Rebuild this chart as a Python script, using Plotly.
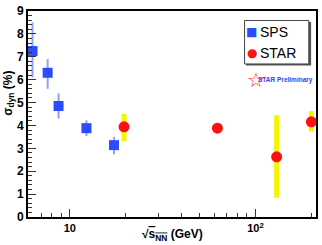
import plotly.graph_objects as go

# SPS data
sps_x = [6.3, 7.6, 8.7, 12.3, 17.3]
sps_y = [7.25, 6.3, 4.85, 3.88, 3.14]
sps_err_plus = [1.25, 0.6, 0.55, 0.34, 0.36]
sps_err_minus = [1.15, 0.7, 0.55, 0.34, 0.4]

# STAR data
star_x = [19.6, 62.4, 130.0, 200.0]
star_y = [3.94, 3.88, 2.63, 4.16]
star_sys_plus = [0.56, 0.05, 1.81, 0.47]
star_sys_minus = [0.64, 0.05, 1.79, 0.43]
star_stat = [0.2, 0.1, 0.15, 0.15]

x_tickvals = [10, 100]
x_ticktext = ["10", "10<sup>2</sup>"]
x_minor = [6, 7, 8, 9, 20, 30, 40, 50, 60, 70, 80, 90, 200]

legend_names = ["SPS", "STAR"]
legend_symbols = ["■", "●"]
legend_colors = ["#2b4cff", "#ff1010"]

font = "Liberation Sans, Arial, sans-serif"

fig = go.Figure()

fig.add_trace(go.Scatter(
    x=sps_x, y=sps_y, mode="markers", name="SPS",
    marker=dict(symbol="square", size=10, color="#2b4cff"),
    error_y=dict(type="data", symmetric=False, array=sps_err_plus,
                 arrayminus=sps_err_minus, color="rgba(90,120,255,0.7)",
                 thickness=2, width=0),
))
fig.add_trace(go.Scatter(
    x=star_x, y=star_y, mode="markers", showlegend=False,
    marker=dict(size=0.1, color="rgba(0,0,0,0)"),
    error_y=dict(type="data", symmetric=False, array=star_sys_plus,
                 arrayminus=star_sys_minus, color="#f5f500",
                 thickness=5, width=0),
))
fig.add_trace(go.Scatter(
    x=star_x, y=star_y, mode="markers", name="STAR",
    marker=dict(symbol="circle", size=11, color="#ff1010"),
    error_y=dict(type="data", array=star_stat, color="#ff3030",
                 thickness=1.5, width=0),
))

fig.update_xaxes(
    type="log", range=[0.775, 2.326],
    tickmode="array", tickvals=x_tickvals, ticktext=x_ticktext,
    ticks="inside", ticklen=8, tickwidth=1.2, tickcolor="#333",
    minor=dict(tickmode="array", tickvals=x_minor, ticks="inside",
               ticklen=4, tickwidth=1.2, tickcolor="#333"),
    showline=True, linecolor="black", linewidth=2, mirror=True,
    showgrid=False, zeroline=False, ticklabeloverflow="allow",
    tickfont=dict(family=font, size=11, color="black", weight="bold"),
)
fig.update_yaxes(
    range=[0, 9], dtick=1,
    ticks="inside", ticklen=8, tickwidth=1.2, tickcolor="#333",
    minor=dict(dtick=0.2, ticks="inside", ticklen=4, tickwidth=1.2,
               tickcolor="#333"),
    showline=True, linecolor="black", linewidth=2, mirror=True,
    showgrid=False, zeroline=False, ticklabeloverflow="allow",
    tickfont=dict(family=font, size=12, color="black", weight="bold"),
)

fig.add_annotation(
    text="σ<sub>dyn</sub> (%)", textangle=-90, xref="paper", yref="paper",
    x=-0.065, y=0.6, xanchor="center", yanchor="middle", showarrow=False,
    font=dict(family=font, size=12, color="black", weight="bold"),
)
fig.add_annotation(
    text="√<span style='text-decoration:overline'>s<sub>NN</sub></span> (GeV)",
    xref="paper", yref="paper", x=0.5, y=-0.085, xanchor="center",
    yanchor="middle", showarrow=False,
    font=dict(family=font, size=12, color="black", weight="bold"),
)
fig.add_annotation(
    text="☆", xref="paper", yref="paper", x=0.79, y=0.667,
    xanchor="center", yanchor="middle", showarrow=False,
    font=dict(family="DejaVu Sans", size=20, color="#ff3030"),
)
fig.add_annotation(
    text="STAR Preliminary", xref="paper", yref="paper", x=0.792, y=0.667,
    xanchor="left", yanchor="middle", showarrow=False,
    font=dict(family=font, size=6.5, color="#3040ff", weight="bold"),
)

# legend box (manual, ROOT style with shadow)
fig.add_shape(type="rect", xref="paper", yref="paper",
              x0=0.757, x1=0.983, y0=0.735, y1=0.947,
              fillcolor="#555", line=dict(width=0), layer="above")
fig.add_shape(type="rect", xref="paper", yref="paper",
              x0=0.752, x1=0.975, y0=0.743, y1=0.954,
              fillcolor="white", line=dict(color="#444", width=1), layer="above")
for i, (nm, sym, col) in enumerate(zip(legend_names, legend_symbols, legend_colors)):
    yy = 0.897 - i * 0.103
    fig.add_annotation(text=sym, xref="paper", yref="paper", x=0.777, y=yy,
                       xanchor="center", yanchor="middle", showarrow=False,
                       font=dict(family="DejaVu Sans", size=12, color=col))
    fig.add_annotation(text=nm, xref="paper", yref="paper", x=0.8, y=yy,
                       xanchor="left", yanchor="middle", showarrow=False,
                       font=dict(family=font, size=14, color="black"))

fig.update_layout(
    width=322, height=245,
    margin=dict(l=28, r=4, t=4, b=28),
    paper_bgcolor="white", plot_bgcolor="white",
    showlegend=False,
)

fig.write_html(
    "out.html",
    config={"displayModeBar": False},
    post_script="document.body.style.margin='0';document.body.style.overflow='hidden';",
)
